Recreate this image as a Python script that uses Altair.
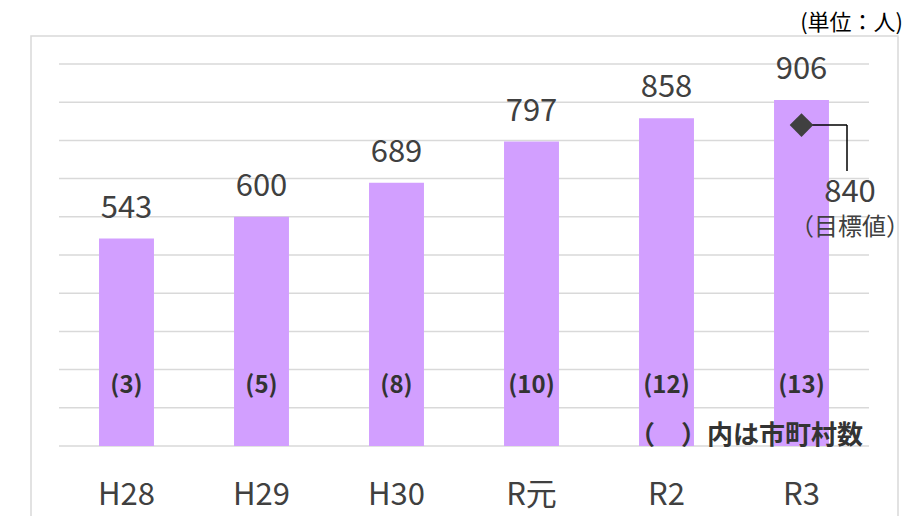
import altair as alt
import pandas as pd

# ---- data ----
years = ["H28", "H29", "H30", "R元", "R2", "R3"]
members = [543, 600, 689, 797, 858, 906]
towns = [3, 5, 8, 10, 12, 13]
target_year = "R3"
target_value = 840
y_ticks = [0, 100, 200, 300, 400, 500, 600, 700, 800, 900, 1000]

title_text = "ファミリー・サポート・センター事業の提供会員数"
unit_text = "(単位：人)"
note_text = "（　）内は市町村数"
target_label = "（目標値）"

FONT = "Noto Sans CJK JP"
DARK = "#404040"
BAR = "#D29FFF"

df = pd.DataFrame({
    "year": years,
    "members": members,
    "towns": [f"({t})" for t in towns],
})
tgt = pd.DataFrame({"year": [target_year], "members": [target_value], "label": [str(target_value)]})
grid_df = pd.DataFrame({"members": y_ticks})
one = pd.DataFrame({"k": [0]})

W, H = 810, 382

xs = alt.X("year:N", sort=years,
           scale=alt.Scale(paddingInner=0.593, paddingOuter=0.2965),
           axis=alt.Axis(title=None, labelFontSize=31, labelColor=DARK, labelFont=FONT,
                         ticks=False, domain=False, labelPadding=49, labelBaseline="middle",
                         labelAngle=0, grid=False))
ys = alt.Y("members:Q", scale=alt.Scale(domain=[0, 1000], nice=False, zero=True),
           axis=None)

frame = alt.Chart(one).mark_rect(fill=None, stroke="#d9d9d9", strokeWidth=1.5).encode(
    x=alt.value(-28), x2=alt.value(839), y=alt.value(-28), y2=alt.value(600))

grid = alt.Chart(grid_df).mark_rule(color="#d9d9d9", strokeWidth=1.5).encode(
    y=alt.Y("members:Q", scale=alt.Scale(domain=[0, 1000], nice=False), axis=None),
    x=alt.value(0), x2=alt.value(W))

bars = alt.Chart(df).mark_bar(color=BAR).encode(x=xs, y=ys)

vals = alt.Chart(df).mark_text(font=FONT, fontSize=31, color=DARK, baseline="alphabetic",
                               dy=-21).encode(
    x=alt.X("year:N", sort=years), y="members:Q", text="members:Q")

town_lbl = alt.Chart(df).mark_text(font=FONT, fontSize=24, fontWeight="bold",
                                   color="#333333", baseline="middle").encode(
    x=alt.X("year:N", sort=years), y=alt.value(322), text="towns:N")

hline = alt.Chart(tgt).mark_rule(color="#000000", strokeWidth=1.5).encode(
    x=alt.X("year:N", sort=years), x2=alt.value(788), y="members:Q")
vline = alt.Chart(tgt).mark_rule(color="#000000", strokeWidth=1.5).encode(
    x=alt.value(788), y="members:Q", y2=alt.value(107))
diamond = alt.Chart(tgt).mark_point(shape="diamond", filled=True, size=560, color=DARK,
                                    opacity=1).encode(
    x=alt.X("year:N", sort=years), y="members:Q")
tgt_num = alt.Chart(tgt).mark_text(font=FONT, fontSize=31, color=DARK,
                                   baseline="alphabetic").encode(
    x=alt.value(791), y=alt.value(138), text="label:N")
tgt_lbl = alt.Chart(one).mark_text(font=FONT, fontSize=24, color=DARK, baseline="middle",
                                   text=target_label).encode(
    x=alt.value(791), y=alt.value(164))

note = alt.Chart(one).mark_text(font=FONT, fontSize=26, fontWeight="bold", color="#333333",
                                baseline="middle", align="right", text=note_text).encode(
    x=alt.value(804), y=alt.value(372))
unit = alt.Chart(one).mark_text(font=FONT, fontSize=22, color="#000000", baseline="middle",
                                align="right", text=unit_text).encode(
    x=alt.value(844), y=alt.value(-41))
title = alt.Chart(one).mark_text(font=FONT, fontSize=31, fontWeight="bold", color="#000000",
                                 baseline="middle", text=title_text).encode(
    x=alt.value(426), y=alt.value(-76))

chart = alt.layer(frame, grid, bars, vals, town_lbl, hline, vline, diamond, tgt_num, tgt_lbl,
                  note, unit, title).properties(
    width=W, height=H,
    autosize=alt.AutoSizeParams(type="none"),
    padding={"left": 51, "top": 56, "right": 43, "bottom": 70},
).configure_view(stroke=None)

chart.save("out.html", embed_options={"renderer": "svg", "actions": False})
